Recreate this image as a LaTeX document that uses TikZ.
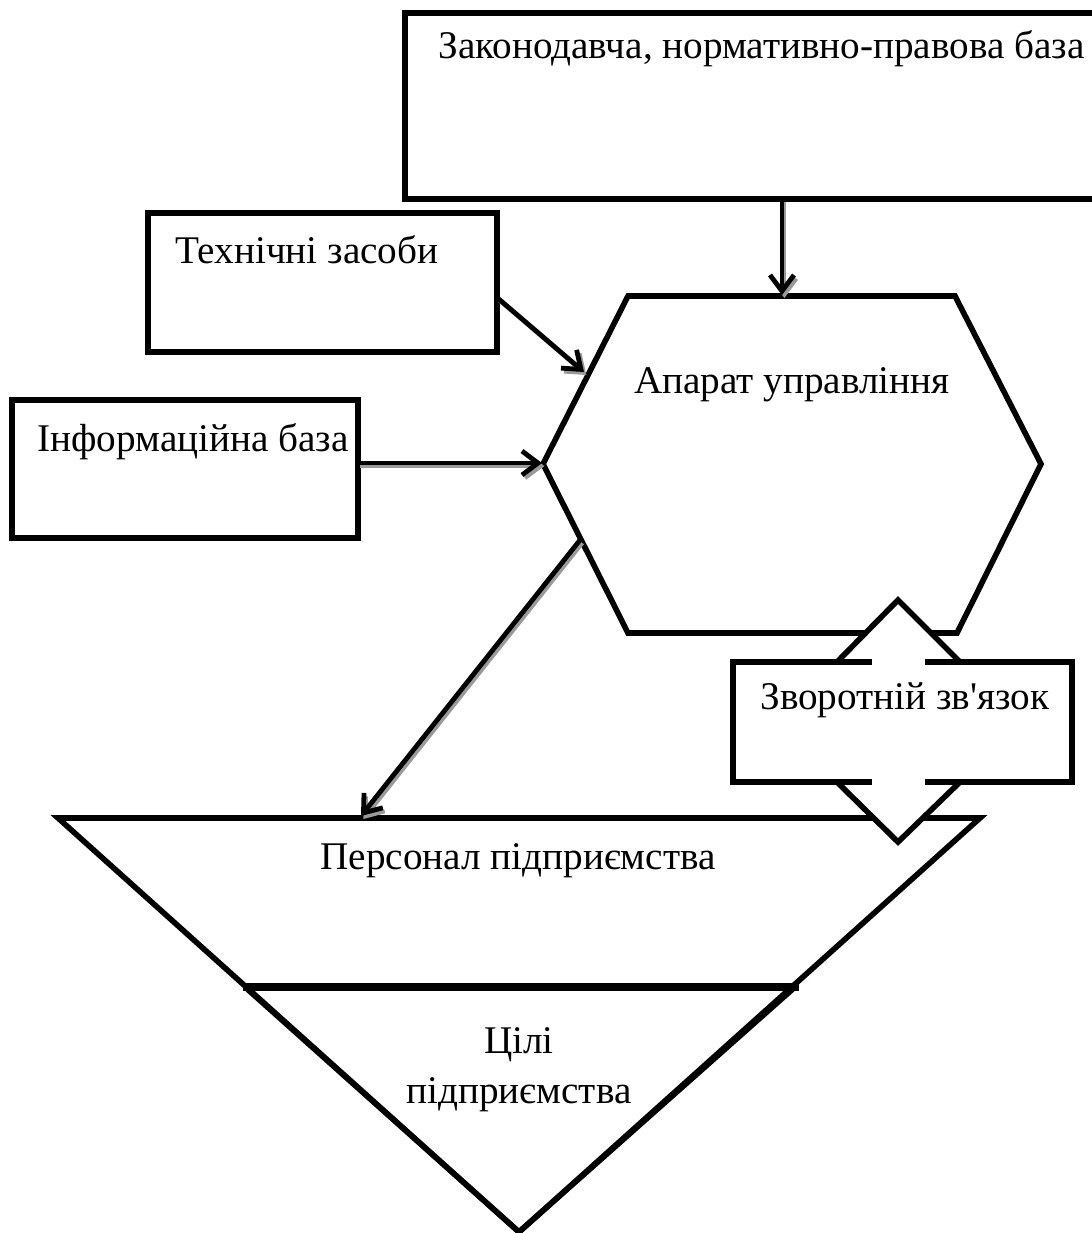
\documentclass[tikz,border=0pt]{standalone}
\usepackage{fontspec}
\setmainfont{Liberation Serif}[Ligatures=TeXOff]
\usetikzlibrary{arrows.meta}
\newcommand{\Px}{0.5pt}
\newcommand{\Edge}{2.8pt}
\definecolor{ink}{HTML}{000000}
\definecolor{shade}{HTML}{9A9A9A}

\tikzset{
  box/.style={draw=ink, fill=white, line width=\Edge, inner sep=0pt, outer sep=0pt, anchor=north west},
  lbl/.style={font=\fontsize{19.6}{23.5}\selectfont, inner sep=0pt},
  feed/.style={ink, line width=2.4pt, line cap=round,
    -{Straight Barb[length=8pt,width=12pt]},
    preaction={draw=shade, line width=2pt, transform canvas={shift={(1.2pt,-1.5pt)}}}},
}

\begin{document}
\begin{tikzpicture}[x=\Px,y=-\Px, line join=miter]
  \useasboundingbox (0,0) rectangle (1092,1233);

  % ---- the three inputs ---------------------------------------------------
  \node[box, minimum width=700*\Px, minimum height=186*\Px] (law) at (405,13) {};
  \node[lbl, anchor=base west] (lawlbl) at (438,58) {Законодавча, нормативно-правова база};

  \node[box, minimum width=349*\Px, minimum height=139*\Px] (tech) at (148,213) {};
  \node[lbl, anchor=base west] (techlbl) at (175,263) {Технічні засоби};

  \node[box, minimum width=346*\Px, minimum height=138*\Px] (info) at (12,400) {};
  \node[lbl, anchor=base west] (infolbl) at (37,451) {Інформаційна база};

  % ---- the hexagon --------------------------------------------------------
  \draw[ink, fill=white, line width=\Edge] (628,296) -- (955,296) -- (1041,464)
    -- (957,633) -- (628,633) -- (543,464) -- cycle;
  \coordinate (hxtop) at (782,295);
  \coordinate (hxtech) at (584,372);
  \coordinate (hxleft) at (542,463);
  \coordinate (hxout) at (580,540);
  \node[lbl, anchor=base] (hexlbl) at (792,393) {Апарат управління};

  % ---- the funnel, staff on top, goals underneath -------------------------
  \draw[ink, fill=white, line width=\Edge] (58,818) -- (980,818) -- (519,1232) -- cycle;
  \draw[ink, line width=\Edge] (245,987) -- (519,1232) -- (795,987);
  \draw[ink, line width=4pt] (243,987) -- (799,987);
  \coordinate (staff) at (361,816);
  \node[lbl, anchor=base] (stafflbl) at (518,869) {Персонал підприємства};
  \node[lbl, align=center] (goallbl) at (519,1070) {Цілі\\[1.5pt]підприємства};

  % ---- feedback: the double arrow goes under its box ----------------------
  \filldraw[fill=white, draw=ink, line width=\Edge] (898,600) -- (960,662) -- (927,662)
    -- (927,782) -- (960,782) -- (898,842) -- (837,782) -- (870,782)
    -- (870,662) -- (837,662) -- cycle;
  \node[box, minimum width=339*\Px, minimum height=120*\Px] (back) at (733,662) {};
  \foreach \y in {662,782} {
    \draw[white, line width=3.8pt] (872,\y) -- (925,\y);
  }
  \node[lbl, anchor=base west] (backlbl) at (760,709) {Зворотній зв'язок};

  % ---- connectors ---------------------------------------------------------
  \draw[feed] (law.south -| hxtop) -- (hxtop);
  \draw[feed] ([yshift=-7.5pt]tech.east) -- (hxtech);
  \draw[feed] (info.east |- hxleft) -- (hxleft);
  \draw[feed] (hxout) -- (staff);

\end{tikzpicture}
\end{document}
